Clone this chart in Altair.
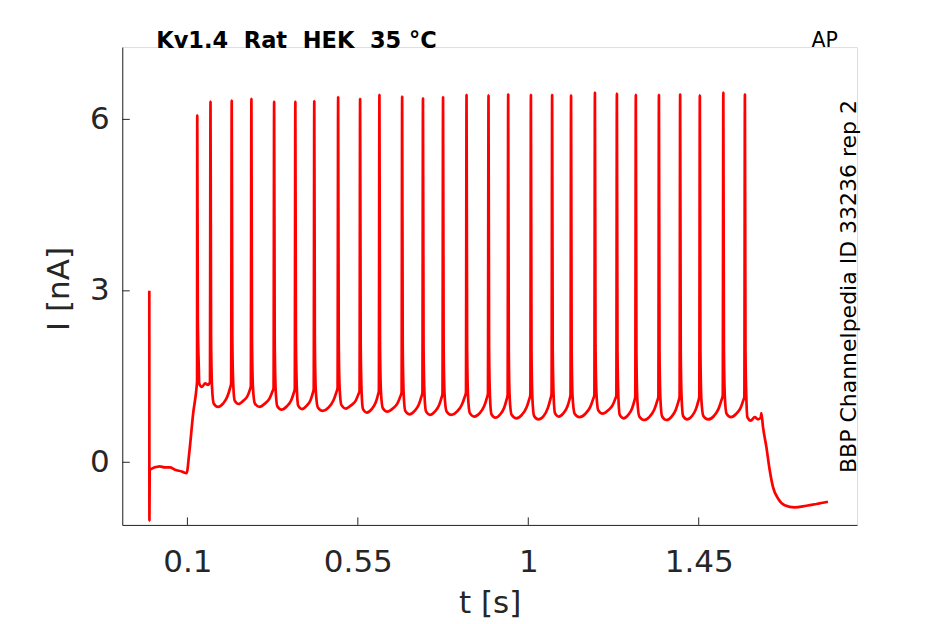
import altair as alt
import pandas as pd

# ---- data ----
art_t = 0.0          # stimulus artefact
art_hi = 3.0
art_lo = -1.02
base_t = [0.0005, 0.027, 0.040, 0.054, 0.067, 0.085, 0.098]
base_i = [-0.13, -0.07, -0.09, -0.09, -0.13, -0.16, -0.19]
ramp_t = [0.1048, 0.1153, 0.1243, 0.1255]
ramp_i = [0.16, 0.86, 1.32, 1.42]

spike_t = [0.126, 0.161, 0.217, 0.269, 0.329, 0.385, 0.435, 0.498, 0.556,
           0.607, 0.667, 0.722, 0.775, 0.837, 0.895, 0.947, 1.007, 1.063,
           1.113, 1.176, 1.234, 1.284, 1.345, 1.401, 1.453, 1.515, 1.572]
spike_peak = [6.07, 6.31, 6.33, 6.36, 6.31, 6.31, 6.32, 6.39, 6.36, 6.43,
              6.40, 6.37, 6.39, 6.43, 6.42, 6.44, 6.43, 6.43, 6.42, 6.47,
              6.45, 6.43, 6.43, 6.44, 6.42, 6.47, 6.44]
trough_i = [1.32, 0.97, 1.02, 0.97, 0.92, 0.93, 0.90, 0.94, 0.87, 0.885,
            0.84, 0.83, 0.83, 0.80, 0.78, 0.77, 0.75, 0.80, 0.79, 0.85,
            0.77, 0.74, 0.74, 0.75, 0.75, 0.79, 0.73]
pre_i = [1.40, 1.38, 1.33, 1.30, 1.28, 1.28, 1.30, 1.25, 1.25, 1.22, 1.22,
         1.20, 1.22, 1.20, 1.18, 1.18, 1.20, 1.18, 1.18, 1.17, 1.15, 1.15,
         1.15, 1.15, 1.17, 1.15, 0.78]
end_t = [1.6154, 1.6197, 1.6286, 1.6373, 1.646, 1.6592, 1.6769, 1.7033,
         1.7342, 1.7606, 1.7912]
end_i = [0.86, 0.62, 0.27, -0.13, -0.43, -0.63, -0.75, -0.79, -0.76, -0.73,
         -0.69]

x_ticks = [0.1, 0.55, 1, 1.45]
y_ticks = [0, 3, 6]

# ---- assemble the trace vertices from the read values ----
pts = []
pts.append((art_t - 0.0006, art_hi))
pts.append((art_t - 0.0003, art_lo))
pts += list(zip(base_t, base_i))
pts += list(zip(ramp_t, ramp_i))
n = len(spike_t)
for k in range(n):
    tk = spike_t[k]
    tr = trough_i[k]
    tn = spike_t[k + 1] if k < n - 1 else end_t[0]
    pre = pre_i[k]
    d = tn - tk
    pts.append((tk, spike_peak[k]))
    pts.append((tk + 0.0015, tr + 1.2))
    pts.append((tk + 0.004, tr + 0.35))
    pts.append((tk + 0.15 * d, tr + 0.06))
    pts.append((tk + 0.35 * d, tr))
    pts.append((tk + 0.6 * d, tr + 0.06))
    pts.append((tk + 0.8 * d, tr + 0.45 * (pre - tr)))
    pts.append((tk + 0.92 * d, tr + 0.8 * (pre - tr)))
    pts.append((tn - 0.0015, pre))
pts += list(zip(end_t, end_i))

trace = pd.DataFrame({"t": [p[0] for p in pts], "I": [p[1] for p in pts],
                      "o": list(range(len(pts)))})

W, H = 735, 478
xdom = [-0.072, 1.868]
ydom = [-1.096, 7.265]
FONT = "DejaVu Sans"
AX = "#262626"

xscale = alt.Scale(domain=xdom, nice=False, zero=False)
yscale = alt.Scale(domain=ydom, nice=False, zero=False)

x_axis = alt.Axis(values=x_ticks, labelExpr="'' + datum.value", ticks=False,
                  tickSize=0, grid=False, domainColor=AX, domainWidth=1,
                  labelFont=FONT, labelFontSize=31, labelColor=AX,
                  labelBaseline="alphabetic", labelPadding=47,
                  titleFont=FONT, titleFontSize=31, titleColor=AX,
                  titleFontWeight="normal", titleBaseline="alphabetic",
                  titleY=88)
y_axis = alt.Axis(values=y_ticks, labelExpr="'' + datum.value", ticks=False,
                  tickSize=0, grid=False, domainColor=AX, domainWidth=1,
                  labelFont=FONT, labelFontSize=31, labelColor=AX,
                  labelBaseline="middle", labelPadding=13,
                  titleFont=FONT, titleFontSize=31, titleColor=AX,
                  titleFontWeight="normal", titleAngle=270,
                  titleAlign="center", titleBaseline="alphabetic",
                  titleX=-54, titleY=241.5)

line = alt.Chart(trace).mark_line(color="#ff0000", strokeWidth=2.7,
                                  strokeJoin="bevel",
                                  interpolate="monotone").encode(
    x=alt.X("t:Q", scale=xscale, title="t [s]", axis=x_axis),
    y=alt.Y("I:Q", scale=yscale, title="I [nA]", axis=y_axis),
    order="o:Q",
)

xt = alt.Chart(pd.DataFrame({"t": x_ticks})).mark_rule(color=AX, strokeWidth=1).encode(
    x=alt.X("t:Q", scale=xscale, title="t [s]", axis=x_axis),
    y=alt.value(H), y2=alt.value(H - 7.5))
yt = alt.Chart(pd.DataFrame({"I": y_ticks})).mark_rule(color=AX, strokeWidth=1).encode(
    y=alt.Y("I:Q", scale=yscale, title="I [nA]", axis=y_axis),
    x=alt.value(0), x2=alt.value(7.5))

one = pd.DataFrame({"a": [0]})
title = alt.Chart(one).mark_text(
    text="Kv1.4\u00a0\u00a0Rat\u00a0\u00a0HEK\u00a0\u00a035\u00a0°C",
    font=FONT, fontSize=22.5, fontWeight="bold", color="#000000",
    align="left", baseline="alphabetic").encode(x=alt.value(34), y=alt.value(0.5))
ap = alt.Chart(one).mark_text(
    text="AP", font=FONT, fontSize=20.5, color="#000000",
    align="left", baseline="alphabetic").encode(x=alt.value(689.5), y=alt.value(-0.3))
side = alt.Chart(one).mark_text(
    text="BBP Channelpedia ID 33236 rep 2", font=FONT, fontSize=22,
    color="#000000", angle=270, align="center",
    baseline="alphabetic").encode(x=alt.value(734.4), y=alt.value(239.5))

chart = alt.layer(line, xt, yt, title, ap, side).properties(
    width=W, height=H,
    autosize=alt.AutoSizeParams(type="none"),
    padding={"left": 114.3, "top": 39, "right": 80, "bottom": 97},
).configure_view(stroke="transparent", strokeWidth=0).configure(background="white")

chart.save("out.html", embed_options={"renderer": "svg", "actions": False})
